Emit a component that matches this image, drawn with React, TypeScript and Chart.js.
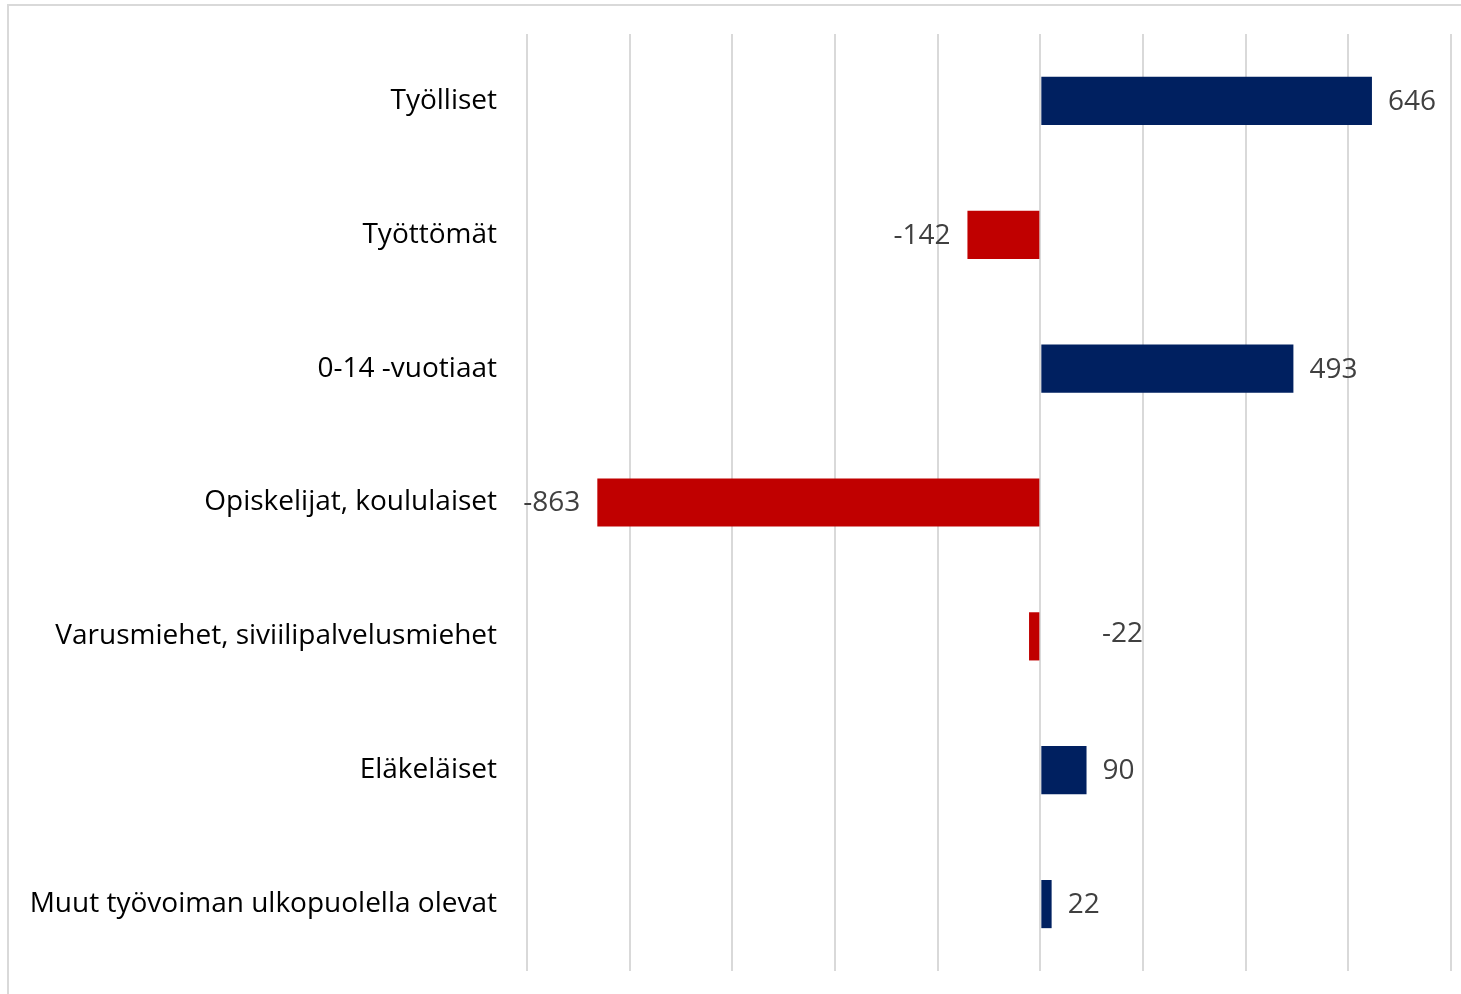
import React, { useEffect, useRef } from "react";
import { Chart, registerables } from "chart.js";

Chart.register(...registerables);

const categories = [
  "Työlliset",
  "Työttömät",
  "0-14 -vuotiaat",
  "Opiskelijat, koululaiset",
  "Varusmiehet, siviilipalvelusmiehet",
  "Eläkeläiset",
  "Muut työvoiman ulkopuolella olevat",
];
const values = [646, -142, 493, -863, -22, 90, 22];
// Excel label manually dragged: index -> value on the x scale where label starts
const movedLabels: Record<number, number> = { 4: 120 };

const POS = "#002060";
const NEG = "#C00000";
const FONT = "'Open Sans'";

const framePlugin = {
  id: "frame",
  beforeDraw(chart: any) {
    const ctx = chart.ctx;
    ctx.save();
    ctx.fillStyle = "#ffffff";
    ctx.fillRect(0, 0, chart.width, chart.height);
    ctx.strokeStyle = "#D9D9D9";
    ctx.lineWidth = 2;
    ctx.strokeRect(8, 5, chart.width + 50, chart.height + 50);
    ctx.restore();
  },
};

const labelPlugin = {
  id: "valueLabels",
  afterDatasetsDraw(chart: any) {
    const ctx = chart.ctx;
    const meta = chart.getDatasetMeta(0);
    const xs = chart.scales.x;
    ctx.save();
    ctx.font = `28px ${FONT}`;
    ctx.fillStyle = "#404040";
    ctx.textBaseline = "middle";
    meta.data.forEach((bar: any, i: number) => {
      const v = values[i];
      const txt = String(v);
      const y = bar.y + 1;
      if (movedLabels[i] !== undefined) {
        ctx.textAlign = "left";
        ctx.fillText(txt, xs.getPixelForValue(movedLabels[i]), y - 3);
      } else if (v >= 0) {
        ctx.textAlign = "left";
        ctx.fillText(txt, bar.x + 16, y);
      } else {
        ctx.textAlign = "right";
        ctx.fillText(txt, bar.x - 17, y);
      }
    });
    ctx.restore();
  },
};

export default function App() {
  const ref = useRef<HTMLCanvasElement>(null);
  useEffect(() => {
    document.body.style.margin = "0";
    const chart = new Chart(ref.current!, {
      type: "bar",
      data: {
        labels: categories,
        datasets: [
          {
            data: values,
            backgroundColor: values.map((v) => (v >= 0 ? POS : NEG)),
            borderWidth: 0,
            barPercentage: 0.36,
            categoryPercentage: 1,
          },
        ],
      },
      options: {
        indexAxis: "y",
        animation: false,
        responsive: false,
        maintainAspectRatio: false,
        layout: { padding: { left: 0, top: 34, right: 10, bottom: 23 } },
        plugins: { legend: { display: false }, tooltip: { enabled: false } },
        scales: {
          x: {
            min: -1000,
            max: 800,
            ticks: { display: false, stepSize: 200 },
            grid: { color: "#D9D9D9", lineWidth: 2, drawTicks: false },
            border: { display: false },
            afterFit(scale: any) {
              scale.height = 0;
              scale.paddingLeft = 0;
              scale.paddingRight = 0;
            },
          },
          y: {
            afterFit(scale: any) {
              scale.width = 527;
              scale.paddingTop = 0;
              scale.paddingBottom = 0;
            },
            ticks: {
              padding: 30,
              color: "#000000",
              font: { family: FONT, size: 28 },
            },
            grid: { display: false, drawTicks: false },
            border: { display: false },
          },
        },
      },
      plugins: [framePlugin, labelPlugin],
    });
    return () => chart.destroy();
  }, []);
  return (
    <div style={{ position: "absolute", left: 0, top: 0, width: 1461, height: 994 }}>
      <canvas ref={ref} width={1461} height={994} style={{ display: "block" }} />
    </div>
  );
}
